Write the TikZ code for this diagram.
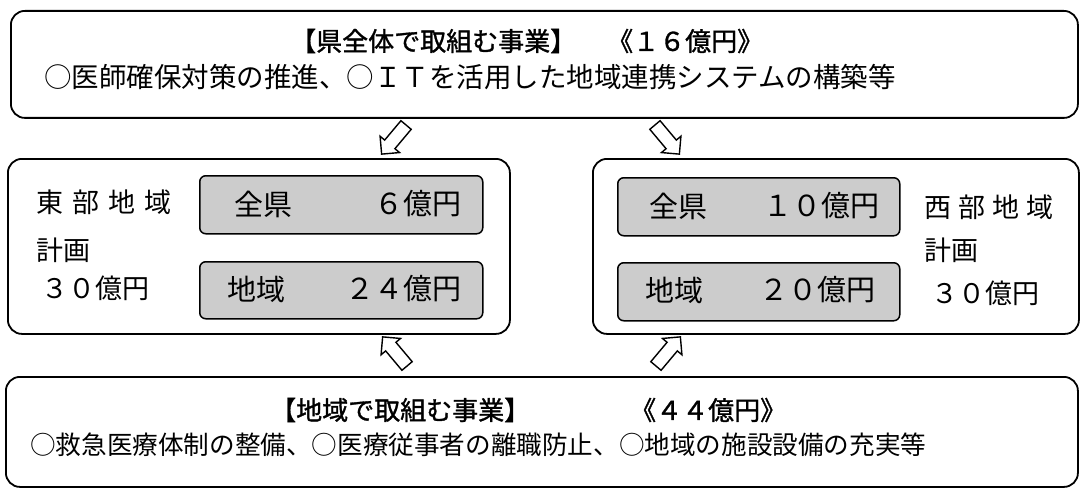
\documentclass[tikz,border=0pt]{standalone}
\usepackage{fontspec}
\newfontfamily\jp{Noto Sans CJK JP}
\newfontfamily\jpb[FakeBold=1.2]{Noto Sans CJK JP}
\usetikzlibrary{shapes.arrows}
\begin{document}
\begin{tikzpicture}[x=1pt,y=-1pt,
  box/.style={draw, line width=1.8pt, rounded corners=14pt, anchor=north west, inner sep=0pt},
  graybox/.style={draw, line width=1.5pt, rounded corners=6pt, fill=gray!40, anchor=north west, inner sep=0pt},
  jt/.style={font=\jp\fontsize{#1}{#1}\selectfont, inner sep=0pt, anchor=west},
  jtb/.style={font=\jpb\fontsize{#1}{#1}\selectfont, inner sep=0pt, anchor=west},
  jte/.style={font=\jp\fontsize{#1}{#1}\selectfont, inner sep=0pt, anchor=east},
  blockarrow/.style={single arrow, draw, line width=1.4pt, fill=white, minimum height=38pt,
    inner xsep=0pt, inner ysep=6pt, single arrow head extend=6pt}]
\useasboundingbox (0,0) rectangle (1083,492);
% outer boxes
\node[box, minimum width=1067pt, minimum height=107pt] (top) at (10,10) {};
\node[box, minimum width=502pt, minimum height=175pt] (east) at (7,158) {};
\node[box, minimum width=486pt, minimum height=175pt] (west) at (592,158) {};
\node[box, minimum width=1072pt, minimum height=110pt] (bottom) at (5,376) {};
% gray boxes
\node[graybox, minimum width=283pt, minimum height=58pt] (eg1) at (199,175) {};
\node[graybox, minimum width=283pt, minimum height=57pt] (eg2) at (199,261) {};
\node[graybox, minimum width=282pt, minimum height=58pt] (wg1) at (617,177) {};
\node[graybox, minimum width=282pt, minimum height=58pt] (wg2) at (617,262) {};
% top texts
\node[jtb=26] (t1a) at (290,41) {【県全体で取組む事業】};
\node[jtb=26] (t1b) at (607,41) {《１６億円》};
\node[jt=27.5] (t2) at (44,77) {○医師確保対策の推進、○ＩＴを活用した地域連携システムの構築等};
% east plan
\node[jt=27] (el1) at (36,202) {東\hspace{9pt}部\hspace{9pt}地\hspace{9pt}域};
\node[jt=27] (el2) at (36,250) {計画};
\node[jt=27] (el3) at (41,288) {３０億円};
\node[jt=29] (eg1a) at (234,204) {全県};
\node[jte=29] (eg1b) at (462,204) {６億円};
\node[jt=29] (eg2a) at (227,289) {地域};
\node[jte=29] (eg2b) at (462,289) {２４億円};
% west plan
\node[jt=29] (wg1a) at (649,206) {全県};
\node[jte=29] (wg1b) at (880,206) {１０億円};
\node[jt=29] (wg2a) at (645,290) {地域};
\node[jte=29] (wg2b) at (876,290) {２０億円};
\node[jt=27] (wl1) at (924,207) {西\hspace{7pt}部\hspace{7pt}地\hspace{7pt}域};
\node[jt=27] (wl2) at (924,250) {計画};
\node[jt=27] (wl3) at (931,293) {３０億円};
% bottom texts
\node[jtb=26] (b1a) at (270,410) {【地域で取組む事業】};
\node[jtb=26] (b1b) at (630,410) {《４４億円》};
\node[jt=25.6] (b2) at (30,445) {○救急医療体制の整備、○医療従事者の離職防止、○地域の施設設備の充実等};
% block arrows
\node[blockarrow, rotate=230] (a1) at (396,137) {};
\node[blockarrow, rotate=310] (a2) at (665,137) {};
\node[blockarrow, rotate=130] (a3) at (397,354) {};
\node[blockarrow, rotate=50] (a4) at (666,354) {};
\end{tikzpicture}
\end{document}
